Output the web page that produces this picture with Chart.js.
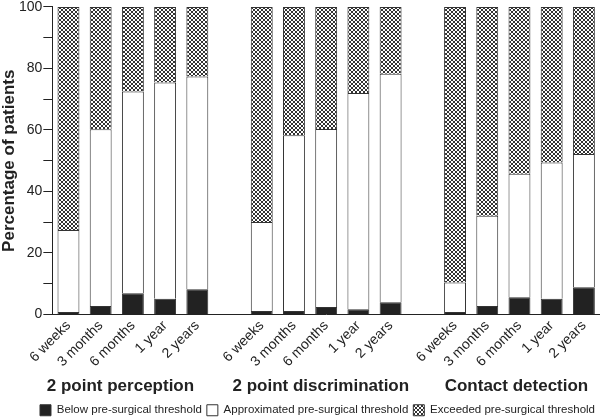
<!DOCTYPE html>
<html>
<head>
<meta charset="utf-8">
<script src="https://cdn.jsdelivr.net/npm/chart.js@4"></script>
<style>
  html, body { margin: 0; padding: 0; background: #fff; }
  #wrap { width: 600px; height: 418px; }
</style>
</head>
<body>
<div id="wrap"><canvas id="chart" width="600" height="418"></canvas></div>
<script>
const timepoints = ['6 weeks', '3 months', '6 months', '1 year', '2 years'];
const tests = ['2 point perception', '2 point discrimination', 'Contact detection'];

// percentage of patients, one array per test
const belowPerception = [0.8, 2.8, 6.9, 5.1, 8.2];
const approxPerception = [26.7, 57.4, 65.6, 70.3, 69.2];
const exceededPerception = [72.5, 39.8, 27.5, 24.6, 22.6];

const belowDiscrimination = [1.1, 1.1, 2.4, 1.7, 4.0];
const approxDiscrimination = [29.0, 57.2, 57.9, 70.3, 74.3];
const exceededDiscrimination = [69.9, 41.7, 39.7, 28.0, 21.7];

const belowContact = [0.8, 2.8, 5.6, 5.1, 8.9];
const approxContact = [9.6, 29.3, 40.2, 44.3, 43.3];
const exceededContact = [89.6, 67.9, 54.2, 50.6, 47.8];

const yTicks = [0, 20, 40, 60, 80, 100];

// join the three groups with an empty slot in between
const withGaps = (a, b, c, gap) => [...a, gap, ...b, gap, ...c];

const labels = withGaps(timepoints, timepoints, timepoints, '');
// trailing spaces nudge the centred group titles a little to the left, as in the original
const groupLabels = withGaps(
  ['', '', tests[0] + '    ', '', ''],
  ['', '', tests[1] + ' ', '', ''],
  ['', '', tests[2], '', ''],
  ''
);

const makeHatch = () => {
  const c = document.createElement('canvas');
  c.width = 4;
  c.height = 4;
  const g = c.getContext('2d');
  g.fillStyle = '#fff';
  g.fillRect(0, 0, 4, 4);
  g.fillStyle = '#333';
  for (let i = 0; i < 4; i++) {
    g.fillRect(i, i, 1, 1);
    g.fillRect(3 - i, i, 1, 1);
  }
  return g.createPattern(c, 'repeat');
};

const ctx = document.getElementById('chart').getContext('2d');
const hatch = makeHatch();
const font = '"Liberation Sans", Arial, Helvetica, sans-serif';

const data = {
  labels,
  datasets: [{
    label: 'Below pre-surgical threshold',
    data: withGaps(belowPerception, belowDiscrimination, belowContact, null),
    backgroundColor: '#222',
    borderColor: '#333',
    borderWidth: 1
  }, {
    label: 'Approximated pre-surgical threshold',
    data: withGaps(approxPerception, approxDiscrimination, approxContact, null),
    backgroundColor: '#fff',
    borderColor: '#333',
    borderWidth: 1
  }, {
    label: 'Exceeded pre-surgical threshold',
    data: withGaps(exceededPerception, exceededDiscrimination, exceededContact, null),
    backgroundColor: hatch,
    borderColor: '#333',
    borderWidth: 1
  }]
};

new Chart(ctx, {
  type: 'bar',
  data,
  options: {
    responsive: false,
    animation: false,
    barPercentage: 0.68,
    categoryPercentage: 1,
    layout: { padding: { left: 0, right: 0, top: 0, bottom: -8 } },
    plugins: {
      legend: {
        position: 'bottom',
        align: 'end',
        labels: {
          color: '#222',
          boxWidth: 11,
          boxHeight: 11,
          padding: 5,
          font: { family: font, size: 11.5 }
        }
      },
      tooltip: { enabled: false }
    },
    scales: {
      x: {
        stacked: true,
        grid: { display: false, drawTicks: false },
        border: { display: true, color: '#222', width: 1 },
        ticks: {
          color: '#222',
          autoSkip: false,
          minRotation: 45,
          maxRotation: 45,
          padding: 3,
          font: { family: font, size: 14 }
        }
      },
      x2: {
        type: 'category',
        labels: groupLabels,
        position: 'bottom',
        offset: true,
        grid: { display: false, drawTicks: false },
        border: { display: false },
        ticks: {
          color: '#222',
          autoSkip: false,
          maxRotation: 0,
          padding: 3,
          labelOffset: -3,
          font: { family: font, size: 17, weight: 'bold' }
        }
      },
      y: {
        stacked: true,
        min: 0,
        max: 100,
        afterBuildTicks: axis => {
          axis.ticks = [];
          for (let v = 0; v <= 100; v += 10) axis.ticks.push({ value: v });
        },
        grid: {
          drawOnChartArea: false,
          drawTicks: true,
          tickLength: 9,
          color: '#222'
        },
        border: { display: true, color: '#222', width: 1 },
        ticks: {
          color: '#222',
          padding: 1,
          font: { family: font, size: 14, lineHeight: 0.85 },
          callback: v => (yTicks.includes(v) ? v : '')
        },
        title: {
          display: true,
          text: 'Percentage of patients',
          color: '#222',
          padding: { top: 1, bottom: 0 },
          font: { family: font, size: 17, weight: 'bold', lineHeight: 1 }
        }
      }
    }
  }
});
</script>
</body>
</html>
